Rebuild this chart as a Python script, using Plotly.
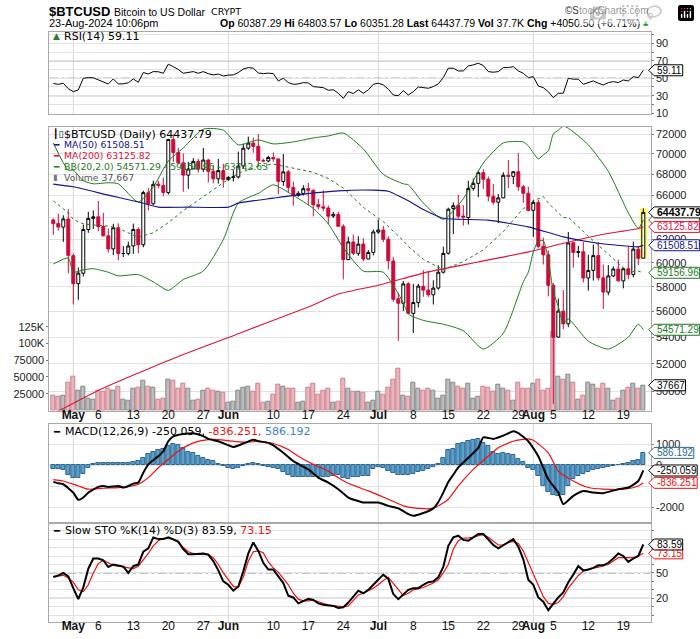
import math
import pandas as pd
import plotly.graph_objects as go

W, H = 700, 639
def px(v): return v / W
def py(v): return 1 - v / H

# ---------------- data ----------------
dates = pd.date_range("2024-04-27", "2024-08-23", freq="D")

open_ = [63750,63423,63106,63839,60609,58253,59122,62891,63892,64039,
         63163,62332,61191,63055,60793,60793,61452,62900,61553,66256,
         65231,67067,66937,66278,71443,70135,69121,67928,68526,69264,
         68512,69392,68297,67577,68365,67490,67707,67753,68804,70569,
         71083,70759,69324,69297,69644,69508,67321,68243,66747,66006,
         66190,66636,66491,65146,64944,64839,64113,64249,63173,60266,
         61790,60808,61612,60319,60889,62673,62845,62034,60147,57022,
         56659,58240,55850,56705,58034,57729,57342,57890,59203,60815,
         64784,65092,64104,63973,66667,67143,68155,67543,65927,65375,
         65771,67911,67809,68259,66819,66201,64625,65354,61415,60676,
         58110,54003,56027,55030,61729,60882,60947,58720,59356,60612,
         58734,57556,58893,59468,58481,59494,59015,61169,60387.29]
high = [63898,64321,64175,64735,60780,59602,63320,64494,64610,65494,
        64390,62986,63404,63446,61436,61818,63422,63092,66454,66712,
        67397,67387,67694,71483,71946,70624,70041,69220,69579,69509,
        70597,69514,68897,69501,69017,67839,68410,70230,71047,71735,
        71625,71997,69533,69817,70146,69569,69977,68449,67294,66402,
        66964,67188,66566,65695,66482,65067,64475,64491,63369,62259,
        62434,62293,62126,61097,62892,63778,63203,62285,60499,57497,
        58472,58371,58236,58239,59371,59299,58526,59786,61377,64870,
        65354,66066,65104,67386,67599,68372,68480,67797,67082,66135,
        68207,69399,68318,70079,66982,66810,65594,65596,62162,61064,
        58305,57041,57726,62673,61751,61452,61778,60680,61572,61780,
        59848,59815,59689,60262,59612,61396,61820,61408,64803.57]
low = [62424,62794,61796,59120,56555,56937,58848,62599,62955,62746,
       62285,60877,60648,60208,60492,60633,60769,60807,61330,64613,
       65119,66663,65937,66086,69191,68977,66356,66622,68515,68183,
       68232,67227,67143,67119,66731,67387,67315,67589,68564,70390,
       70119,68829,69210,69161,69233,66123,66902,66304,65056,65871,
       66001,65094,64086,64693,64559,63379,63930,63180,58601,60240,
       60657,60585,60144,60301,60632,62512,61786,59449,56771,53717,
       56038,55793,54321,56316,57178,57167,56557,57757,59100,60704,
       62487,63896,63246,63339,66446,65842,66609,65442,65141,63456,
       65742,66705,67066,66429,65323,64532,62248,61236,59852,57210,
       49121,53959,54620,54766,59587,60453,58348,57688,58506,58520,
       56217,57299,58798,58445,57862,58610,58783,59815,60351.28]
close = [63419,63113,63841,60636,58254,59123,62889,63891,64031,63161,
         62334,61187,63049,60792,60793,61448,62901,61553,66267,65231,
         67051,66940,66278,71448,70136,69122,67929,68526,69265,68518,
         69394,68296,67578,68364,67491,67706,67751,68804,70567,71082,
         70757,69342,69305,69648,69512,67332,68242,66757,66011,66191,
         66639,66490,65140,64960,64828,64096,64252,63180,60277,61804,
         60811,61604,60320,60887,62678,62851,62029,60173,56977,56663,
         58230,55857,56714,58052,57725,57339,57889,59204,60797,64725,
         65043,64087,63987,66660,67139,68165,67532,65936,65372,65777,
         67912,67813,68255,66819,66201,64619,65357,61415,60680,58116,
         53991,56034,55027,61710,60880,60945,58719,59355,60609,58737,
         57560,58894,59478,58483,59493,59012,61175,60381,64437.79]
volume_k = [22,20,22,42,51,30,36,18,16,30, 28,32,30,36,16,14,32,34,44,36,
            34,16,18,46,44,32,40,32,14,16, 30,32,30,28,26,12,13,30,34,36,
            28,40,12,13,24,38,36,32,32,12, 13,34,40,24,30,32,11,13,48,32,
            28,28,26,12,15,28,24,34,46,62, 22,20,42,32,30,32,30,18,22,46,
            42,36,32,40,17,20,36,34,28,38, 32,30,15,42,32,32,40,46,30,32,
            118,50,46,54,42,16,22,42,38,32, 40,32,14,18,30,34,40,32,37.667]
volume = [v * 1000 for v in volume_k]

rsi14 = [44,43,44.3,38,34.6,36.6,50,50.7,50.5,48,
         45.5,43.4,49.2,43.4,43.6,44.8,49.2,45.4,56.5,54.9,
         57.6,57.4,55.7,66.1,63.3,60,55.7,56.8,57.6,55.7,
         57.6,55.2,53.8,54.8,52.6,53.6,53.8,56.5,60.5,62.2,
         61.5,56,55.3,55.8,55.3,46.9,50,45,43,43.5,
         45,44.5,40.4,39.8,39.2,36.2,36.8,32.8,27,34.6,
         32.5,36.6,32.8,36.6,43.1,44.3,42.3,37.5,30.8,30,
         35.8,30.8,34.6,40,39.5,38.5,40.5,43.5,50.7,61.5,
         61.5,58.4,58.4,64.1,65.3,67.2,64.5,57.6,56.9,57.6,
         62.2,62.2,63.3,58.4,55.7,50.7,51.8,41.1,39.2,34.6,
         27.7,32.8,32.8,50,48.9,48.9,43.1,45,46.9,44.3,
         42.3,45,46.1,45,48,46.9,51.8,50.7,59.11]

stoch_k = [45,47,50,46,32,19,33,55,67,67, 65,57,60,58.5,57.5,50,58,60,75,79,
           92,90,90,92,89,87,78,72,72,72.5, 73,71.5,64,53,40,36,29,34,52,73,
           86,76,62,54,54,46,38,23,21,14, 17,19.5,18,14,12.5,11.5,11,8.5,9.5,15,
           22,29,26,30,36,42,48,43,25,19, 24,30,32,32,36,39,40,45,57,82,
           92,94,89,88,92,96,96,90,83,79, 83,87,90,81,66,42,36,21,16,6,
           14,21,27,39,48,58,53,54,56,59, 59,62,67,73,70,63,67,70,83.59]
stoch_d = [46,47,47.2,44,39,30,28,36,50,61, 64.8,62,59,58,57,56,55.2,58,65,73,
           82,88,91,91.5,90,86,80,75,73,72, 72,72,68,60,50,42,34,33,45,64,
           75,76,74,63,56,51,44,36,26,19, 17,17,18,16,13.5,12,11.5,10.5,10,11,
           18,24,26,28.8,32,36,41,44.8,38,30, 23.2,26,30,31.5,32.8,35.5,38,42,50,60,
           78,88,91.2,91.5,92,94,95.2,92,88,83, 83,86,87.2,84.8,76,62,50,34,22,14,
           12.8,15,22,32,40,47,52,54,55.5,56.8, 58.5,60,64,68,68,68,68,70,73.15]

macd_hist = [-190,-190,-250,-450,-600,-630,-400,-150,60,120,
             125,110,120,100,90,100,130,190,360,520,
             650,700,760,920,1010,960,820,650,560,450,
             340,260,180,40,-60,-140,-160,-140,-40,80,
             125,50,-30,-90,-130,-200,-300,-450,-560,-580,
             -560,-560,-580,-560,-560,-540,-500,-470,-600,-650,
             -580,-560,-520,-500,-190,-63,-110,-267,-377,-470,
             -470,-470,-424,-345,-267,-190,-63,47,360,723,
             755,990,1070,1150,1195,1226,1070,912,630,520,
             566,520,470,283,157,-110,-220,-535,-975,-1250,
             -1415,-1478,-1415,-975,-660,-535,-424,-345,-220,-190,
             -110,-63,-30,0,47,125,204,250,586.192]
macd_idx = [0,1,2,4,5,6,7,9,10,11,13,14,15,16,17,18,19,21,22,23,
            24,26,28,30,31,33,36,37,40,41,43,44,46,48,51,53,55,57,59,62,
            65,67,69,71,72,74,76,77,78,79,80,81,83,85,86,88,90,92,93,95,
            97,99,101,102,104,106,108,110,113,115,117,118]
macd_line = [-790,-860,-905,-1300,-1645,-1535,-1300,-1030,-985,-1030,-985,-1060,-985,-875,-825,-355,40,430,665,1140,
             1370,1480,1520,1380,1250,1140,870,935,1215,1140,1060,940,590,195,-200,-590,-825,-1140,-1535,-1770,
             -1770,-1930,-2050,-2320,-2400,-2270,-2050,-1750,-1300,-800,-450,-100,355,825,1325,1250,1405,1610,1530,1140,
             430,-670,-1300,-1850,-1455,-1220,-1300,-1330,-1140,-1060,-750,-250.059]
sig_idx = [0,2,5,7,10,13,15,17,19,21,23,25,28,31,33,36,39,41,44,47,
           49,52,55,57,59,63,67,70,73,76,79,81,84,87,89,92,95,96,99,101,
           104,107,110,114,117,118]
macd_signal = [-680,-750,-985,-1140,-1095,-1060,-1015,-905,-590,-120,275,665,1060,1215,1215,1140,1090,1140,1030,745,
               430,40,-280,-590,-860,-1220,-1615,-1930,-2050,-2050,-1615,-985,-200,430,825,1140,1250,1185,590,-280,
               -750,-1060,-1140,-1140,-985,-836.251]

ma50_dates = ['2024-04-27','2024-05-01','2024-05-08','2024-05-14','2024-05-18','2024-05-24','2024-06-01',
              '2024-06-03','2024-06-10','2024-06-16','2024-06-23','2024-06-30','2024-07-03','2024-07-07',
              '2024-07-10','2024-07-14','2024-07-23','2024-07-31','2024-08-07','2024-08-14','2024-08-22','2024-08-23']
ma50 = [67070,66815,66030,65400,64920,64920,64920,65290,65750,66125,66435,66500,66400,65500,
        64700,63910,63735,63130,62240,61680,61370,61508.51]
ma200_dates = ['2024-04-27','2024-05-06','2024-05-21','2024-06-03','2024-06-17','2024-06-23','2024-07-01',
               '2024-07-11','2024-07-21','2024-07-31','2024-08-07','2024-08-14','2024-08-22','2024-08-23']
ma200 = [48450,50080,52400,54270,56360,57400,58120,59230,60070,60930,61680,62390,62990,63125.82]

bb_dates = ['2024-04-27','2024-04-30','2024-05-01','2024-05-03','2024-05-05','2024-05-08','2024-05-10','2024-05-14',
            '2024-05-17','2024-05-20','2024-05-23','2024-05-27','2024-05-31','2024-06-03','2024-06-07','2024-06-10',
            '2024-06-14','2024-06-18','2024-06-21','2024-06-24','2024-06-28','2024-07-02','2024-07-06','2024-07-07',
            '2024-07-10','2024-07-14','2024-07-18','2024-07-22','2024-07-26','2024-07-30','2024-07-31','2024-08-01',
            '2024-08-02','2024-08-03','2024-08-04','2024-08-05','2024-08-06','2024-08-07','2024-08-08','2024-08-12',
            '2024-08-16','2024-08-20','2024-08-22','2024-08-23']
bb_upper = [71100,68400,68400,67400,67100,67200,67100,65400,66800,69300,70600,72500,72400,70900,71400,71000,
            71200,71600,71800,72100,70500,68000,67100,67000,65300,63800,65700,69100,71100,71200,70800,70100,
            69500,69900,70300,72000,72400,72800,72600,70900,68300,64400,63000,63742.63]
bb_mid = [65500,64400,63800,63400,63300,63200,63000,62200,62600,63500,64600,65900,67200,68100,68800,69000,
          68600,68200,67600,66700,64900,63600,61900,61400,60300,59400,60100,61100,62700,64800,65000,65500,
          65700,65900,65300,64800,64400,63950,64000,62300,60700,59200,59300,59156.96]
bb_lower = [59900,60400,59200,59400,59500,59200,58900,59000,58400,57700,58600,59300,62000,65300,66200,67000,
            66000,64800,63400,61300,59300,59200,56700,55800,55300,55000,54500,53100,54300,58400,59200,60900,
            61900,61900,60300,57600,56400,55100,55400,53700,53100,54000,55000,54571.29]

tick_dates = ['2024-05-01','2024-05-06','2024-05-13','2024-05-20','2024-05-27','2024-06-01','2024-06-10',
              '2024-06-17','2024-06-24','2024-07-01','2024-07-08','2024-07-15','2024-07-22','2024-07-29',
              '2024-08-01','2024-08-05','2024-08-12','2024-08-19']
tick_text = ['<b>May</b>','6','13','20','27','<b>Jun</b>','10','17','24','<b>Jul</b>','8','15','22','29',
             '<b>Aug</b>','5','12','19']
month_starts = ['2024-05-01','2024-06-01','2024-07-01','2024-08-01']
price_ticks = [50000,52000,54000,56000,58000,60000,62000,64000,66000,68000,70000,72000]
price_tick_text = ['50000','52000','54000','56000','58000','60000','62000','','66000','68000','70000','72000']

# ---------------- styling ----------------
RED = '#cc0a3a'
NAVY = '#14148a'
CRIM = '#dc143c'
GRN = '#1e7a1e'
GRID = '#e2e2e2'
BORDER = '#a9a9a9'
AR = 'Liberation Sans, Arial, sans-serif'
VER = 'DejaVu Sans, Verdana, sans-serif'

XL, XR = 49.3, 650.7
xdom = [px(XL), px(XR)]
xrange = ['2024-04-26 04:48', '2024-08-24 11:30']

P_RSI = (32, 114)
P_MAIN = (126.7, 410.5)
P_MACD = (424, 523)
P_STO = (523, 622)

fig = go.Figure()

fig.add_trace(go.Scatter(x=dates, y=rsi14, mode='lines', line=dict(color='black', width=1),
                         xaxis='x', yaxis='y', hoverinfo='skip'))

vol_up = []
for i in range(len(close)):
    prev = close[i-1] if i > 0 else open_[0]
    vol_up.append(close[i] >= prev)
fig.add_trace(go.Bar(x=dates, y=volume, xaxis='x2', yaxis='y2', width=0.78*86400000,
                     marker=dict(color=['#bdbdbd' if u else '#e9b6bd' for u in vol_up],
                                 line=dict(color=['#858585' if u else '#cf7f8c' for u in vol_up], width=1)),
                     hoverinfo='skip'))

fig.add_trace(go.Scatter(x=bb_dates, y=bb_mid, mode='lines', line=dict(color=GRN, width=1, dash='dot'),
                         xaxis='x2', yaxis='y3', hoverinfo='skip'))
fig.add_trace(go.Scatter(x=bb_dates, y=bb_upper, mode='lines', line=dict(color=GRN, width=1, shape='spline', smoothing=0.6),
                         xaxis='x2', yaxis='y3', hoverinfo='skip'))
fig.add_trace(go.Scatter(x=bb_dates, y=bb_lower, mode='lines', line=dict(color=GRN, width=1, shape='spline', smoothing=0.6),
                         xaxis='x2', yaxis='y3', hoverinfo='skip'))
fig.add_trace(go.Scatter(x=ma200_dates, y=ma200, mode='lines', line=dict(color=CRIM, width=1.1, shape='spline', smoothing=0.5),
                         xaxis='x2', yaxis='y3', hoverinfo='skip'))
fig.add_trace(go.Scatter(x=ma50_dates, y=ma50, mode='lines', line=dict(color=NAVY, width=1.1, shape='spline', smoothing=0.5),
                         xaxis='x2', yaxis='y3', hoverinfo='skip'))
fig.add_trace(go.Candlestick(x=dates, open=open_, high=high, low=low, close=close, xaxis='x2', yaxis='y3',
                             increasing=dict(line=dict(color='black', width=1), fillcolor='white'),
                             decreasing=dict(line=dict(color=RED, width=1), fillcolor=RED),
                             whiskerwidth=0, hoverinfo='skip'))

fig.add_trace(go.Bar(x=dates, y=macd_hist, xaxis='x3', yaxis='y4', width=0.92*86400000,
                     marker=dict(color='#5b9fcb', line=dict(color='#2b6690', width=1)), hoverinfo='skip'))
fig.add_trace(go.Scatter(x=[dates[i] for i in sig_idx], y=macd_signal, mode='lines',
                         line=dict(color='#ee1111', width=1.2, shape='spline', smoothing=0.6),
                         xaxis='x3', yaxis='y4', hoverinfo='skip'))
fig.add_trace(go.Scatter(x=[dates[i] for i in macd_idx], y=macd_line, mode='lines',
                         line=dict(color='black', width=2, shape='spline', smoothing=0.5),
                         xaxis='x3', yaxis='y4', hoverinfo='skip'))

fig.add_trace(go.Scatter(x=dates, y=stoch_d, mode='lines', line=dict(color='#ee1111', width=1.2),
                         xaxis='x4', yaxis='y5', hoverinfo='skip'))
fig.add_trace(go.Scatter(x=dates, y=stoch_k, mode='lines', line=dict(color='black', width=2),
                         xaxis='x4', yaxis='y5', hoverinfo='skip'))

tickfont = dict(family=AR, size=11, color='#222')

def xax(anchor, labels):
    d = dict(type='date', range=xrange, domain=xdom, anchor=anchor, showgrid=False, zeroline=False,
             showline=True, mirror=True, linecolor=BORDER, linewidth=1, fixedrange=True, ticks='',
             rangeslider=dict(visible=False), automargin=False, tickangle=0)
    if labels:
        d.update(tickmode='array', tickvals=tick_dates, ticktext=tick_text, ticklabelstandoff=-7,
                 tickfont=dict(family=AR, size=12, color='#111'), showticklabels=True)
    else:
        d.update(showticklabels=False)
    return d

def yax(panel, anchor, **kw):
    d = dict(domain=[py(panel[1]), py(panel[0])], anchor=anchor, side='right', showgrid=True,
             gridcolor=GRID, gridwidth=1, zeroline=False, showline=True, mirror=True, linecolor=BORDER,
             linewidth=1, ticks='outside', ticklen=2, tickcolor='#777', tickfont=tickfont, fixedrange=True,
             automargin=False)
    d.update(kw)
    return d

layout = dict(
    width=W, height=H, autosize=False, margin=dict(l=0, r=0, t=0, b=0, pad=0, autoexpand=False),
    paper_bgcolor='white', plot_bgcolor='white',
    showlegend=False, hovermode=False, bargap=0, boxgap=0.15,
    xaxis=xax('y', False), xaxis2=xax('y2', True), xaxis3=xax('y4', False), xaxis4=xax('y5', True),
    yaxis=yax(P_RSI, 'x', range=[9, 103], tickmode='array', tickvals=[10,20,30,40,50,60,70,80,90,100],
              ticktext=['10','','30','','50','','70','','90','']),
    yaxis2=dict(domain=[py(P_MAIN[1]), py(P_MAIN[0])], anchor='x2', side='left', range=[0, 423300],
                showgrid=False, zeroline=False, showline=True, mirror=True, linecolor=BORDER,
                tickmode='array', tickvals=[25000,50000,75000,100000,125000],
                ticktext=['25000','50000','75000','100K','125K'], ticks='outside', ticklen=2,
                tickcolor='#777', tickfont=tickfont, fixedrange=True, automargin=False),
    yaxis3=dict(overlaying='y2', anchor='x2', side='right', type='log',
                range=[math.log10(48675), math.log10(72750)], tickmode='array', tickvals=price_ticks,
                ticktext=price_tick_text, showgrid=True, gridcolor=GRID, zeroline=False,
                showline=False, ticks='outside', ticklen=2, tickcolor='#777', tickfont=tickfont,
                fixedrange=True, automargin=False),
    yaxis4=yax(P_MACD, 'x3', range=[-2745, 1958], tickmode='array', tickvals=[-2000,-1000,0,1000],
               ticktext=['-2000','','0','1000']),
    yaxis5=yax(P_STO, 'x4', range=[-8, 109], tickmode='array', tickvals=[0,10,20,30,40,50,60,70,80,90,100],
               ticktext=['','','20','','','50','','','','','']),
)
fig.update_layout(**layout)

shapes = []
for xa, pnl in (('x', P_RSI), ('x2', P_MAIN), ('x3', P_MACD), ('x4', P_STO)):
    for m in month_starts:
        shapes.append(dict(type='line', xref=xa, yref='paper', x0=m, x1=m, y0=py(pnl[1]), y1=py(pnl[0]),
                           line=dict(color='#d6d6d6', width=1), layer='below'))
for yr, lv, dash in (('y', 70, 'solid'), ('y', 30, 'solid'), ('y', 50, 'dashdot'),
                     ('y5', 80, 'solid'), ('y5', 20, 'solid'), ('y5', 50, 'dashdot')):
    shapes.append(dict(type='line', xref='paper', yref=yr, x0=px(XL), x1=px(XR), y0=lv, y1=lv,
                       line=dict(color='#6e6e6e', width=1, dash=dash), layer='below'))
last = dates[-1]
shapes.append(dict(type='rect', xref='x2', yref='y3', x0=last - pd.Timedelta(hours=17), x1=last + pd.Timedelta(hours=17),
                   y0=low[-1], y1=high[-1], fillcolor='#ffff44', line=dict(width=0), layer='below'))
fig.update_layout(shapes=shapes)

TAGSIZE = 10

def textw(s, size=TAGSIZE):
    w = 0
    for ch in s:
        if ch.isdigit():
            w += 0.556
        elif ch in '.,':
            w += 0.278
        elif ch == '-':
            w += 0.333
        else:
            w += 0.6
    return w * size

def tag(text, val, yref, color, bold=False, logax=False, show_text=True):
    size = TAGSIZE + (0.5 if bold else 0)
    w = textw(text, size) + (1.5 if bold else 0)
    fig.add_shape(type='path', xref='paper', yref=yref, xsizemode='pixel', ysizemode='pixel',
                  xanchor=px(XR), yanchor=val,
                  path=f'M -2,0 L 3.5,5.5 L {w+7:.1f},5.5 L {w+7:.1f},-5.5 L 3.5,-5.5 Z',
                  line=dict(color=color, width=1), fillcolor='white', layer='above')
    if show_text:
        fig.add_annotation(xref='paper', yref=yref, x=px(XR + 4), y=(math.log10(val) if logax else val),
                           xanchor='left', yanchor='middle', showarrow=False,
                           text=(f'<b>{text}</b>' if bold else text),
                           font=dict(family=AR, size=size, color=color))

tag('63742.63', bb_upper[-1], 'y3', GRN, logax=True, show_text=False)
tag('59156.96', bb_mid[-1], 'y3', GRN, logax=True)
tag('54571.29', bb_lower[-1], 'y3', GRN, logax=True)
tag('61508.51', ma50[-1], 'y3', NAVY, logax=True)
tag('63125.82', ma200[-1], 'y3', CRIM, logax=True)
tag('64437.79', close[-1], 'y3', 'black', bold=True, logax=True)
tag('37667', volume[-1], 'y2', 'black')
tag('59.11', rsi14[-1], 'y', 'black')
tag('586.192', macd_hist[-1], 'y4', '#2b6690')
tag('-836.251', macd_signal[-1], 'y4', '#ee1111')
tag('-250.059', macd_line[-1], 'y4', 'black')
tag('73.15', stoch_d[-1], 'y5', '#ee1111')
tag('83.59', stoch_k[-1], 'y5', 'black')

def txt(x, y, text, size=11, color='black', family=VER, anchor='left'):
    fig.add_annotation(xref='paper', yref='paper', x=px(x), y=py(y), xanchor=anchor, yanchor='middle',
                       text=text, showarrow=False, font=dict(family=family, size=size, color=color))

# header
txt(47, 11, '<b>$BTCUSD</b>', size=13, family=AR)
txt(112, 11.5, 'Bitcoin to US Dollar', size=10.5, family=AR)
txt(209, 11.5, 'CRYPT', size=9.5, family=VER)
txt(651, 10, '©StockCharts.com', size=10, color='#333', family=AR, anchor='right')
txt(47, 23, '23-Aug-2024 10:06pm', size=11, family=AR)
txt(642, 23, '<b>Op</b> 60387.29 <b>Hi</b> 64803.57 <b>Lo</b> 60351.28 <b>Last</b> 64437.79 '
             '<b>Vol</b> 37.7K <b>Chg</b> +4050.50 (+6.71%)', size=10.5, family=AR, anchor='right')
txt(651, 23, '▲', size=7, color='#1a9a1a', family=VER, anchor='right')

# panel legends
txt(51, 36, '▲', size=9, color='#2f7a2f')
txt(62, 36, 'RSI(14) 59.11', size=11)
txt(51, 134.3, '┃▯', size=9)
txt(62, 134.3, '$BTCUSD (Daily) 64437.79', size=11)
txt(51, 145, '<b>━</b>', size=9, color=NAVY)
txt(62, 145, 'MA(50) 61508.51', size=9.3, color=NAVY)
txt(51, 156, '<b>━</b>', size=9, color=CRIM)
txt(62, 156, 'MA(200) 63125.82', size=9.3, color=CRIM)
txt(51, 166.7, '<b>━</b>', size=9, color=GRN)
txt(62, 166.7, 'BB(20,2.0) 54571.29 - 59156.96 - 63742.63', size=9.3, color=GRN)
txt(51, 177.3, '▮', size=8, color='#777')
txt(62, 177.3, 'Volume 37,667', size=9.3, color='#555')
txt(51, 431.7, '<b>━</b>', size=10)
txt(63, 431.7, 'MACD(12,26,9) -250.059,<span style="color:#ee1111"> -836.251,</span>'
               '<span style="color:#3a86c0"> 586.192</span>', size=11)
txt(51, 530, '<b>━</b>', size=10)
txt(63, 530, 'Slow STO %K(14) %D(3) 83.59, <span style="color:#ee1111">73.15</span>', size=11)

fig.write_html('out.html', post_script="document.body.style.margin='0';document.body.style.overflow='hidden';")
